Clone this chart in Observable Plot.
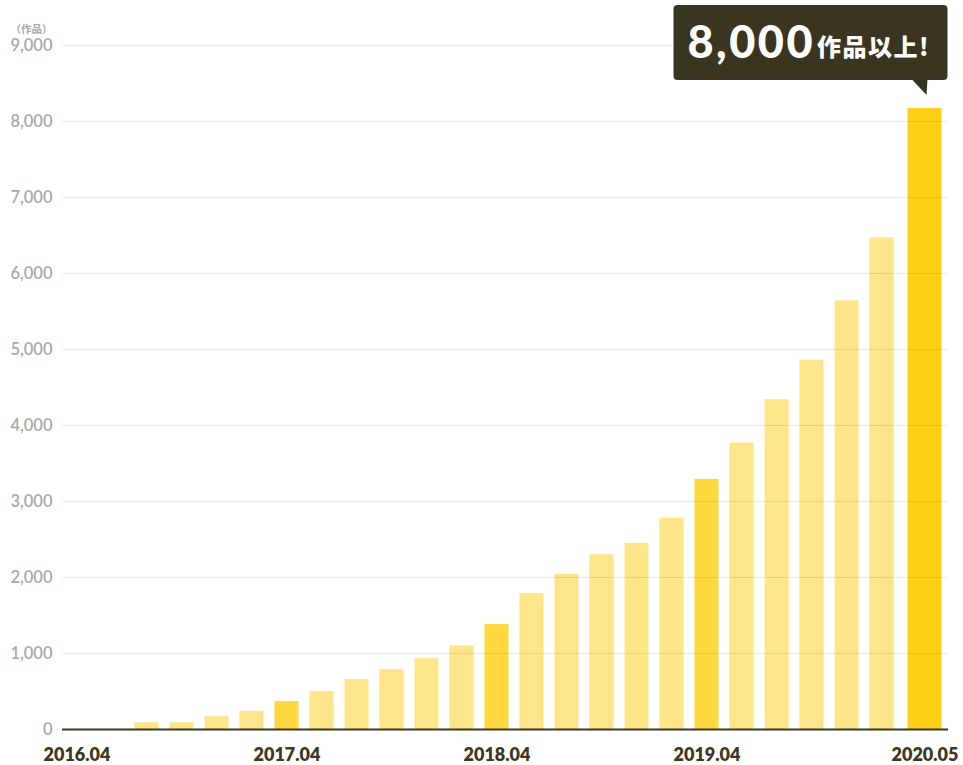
<!DOCTYPE html>
<html><head><meta charset="utf-8">
<script src="https://cdn.jsdelivr.net/npm/d3@7"></script>
<script src="https://cdn.jsdelivr.net/npm/@observablehq/plot@0.6"></script>
<style>
body{margin:0;background:#fff;}
</style></head><body><div id="chart"></div>
<script>
// ---- data ----
const months = ["2016.04","2016.06","2016.08","2016.10","2016.12",
  "2017.02","2017.04","2017.06","2017.08","2017.10","2017.12",
  "2018.02","2018.04","2018.06","2018.08","2018.10","2018.12",
  "2019.02","2019.04","2019.06","2019.08","2019.10","2019.12",
  "2020.02","2020.05"];
const works = [0,0,88,88,168,240,368,500,657,787,933,1100,1380,1790,2040,2300,2450,2780,3290,3770,4340,4860,5640,6470,8170];
const highlightMonths = ["2017.04","2018.04","2019.04"];
const latestMonth = "2020.05";
const xTickLabels = ["2016.04","2017.04","2018.04","2019.04"];
const yTicks = [0,1000,2000,3000,4000,5000,6000,7000,8000,9000];
const yUnit = "（作品）";
const calloutNumber = "8,000";
const calloutSuffix = "作品以上!";

const data = months.map((m, i) => ({month: m, works: works[i]}));
const normal = data.filter(d => d.month !== latestMonth && !highlightMonths.includes(d.month));
const highlighted = data.filter(d => highlightMonths.includes(d.month));
const latest = data.filter(d => d.month === latestMonth);

const font = "Lato, 'Noto Sans CJK JP', sans-serif";

const chart = Plot.plot({
  width: 963, height: 765,
  marginLeft: 62, marginRight: 15, marginTop: 45, marginBottom: 36,
  style: {fontFamily: font, background: "#fff", overflow: "visible"},
  x: {type: "band", domain: months, range: [58.5, 933.5], padding: 0},
  y: {domain: [0, 9000]},
  marks: [
    Plot.barY(normal, {x: "month", y: "works", fill: "#fee58a", insetLeft: 5.5, insetRight: 5.5}),
    Plot.barY(highlighted, {x: "month", y: "works", fill: "#fed83c", insetLeft: 5.5, insetRight: 5.5}),
    Plot.barY(latest, {x: "month", y: "works", fill: "#fecf14", dx: 8, insetLeft: 0.5, insetRight: 0.5}),
    Plot.gridY(yTicks, {stroke: "#000", strokeOpacity: 0.08, strokeWidth: 1}),
    Plot.ruleY([0], {stroke: "#3b3823", strokeWidth: 2}),
    Plot.axisY(yTicks, {tickSize: 0, tickPadding: 10, tickFormat: d3.format(","), fill: "#a9a9a9", fontSize: 16.5, fontWeight: 600, label: null}),
    Plot.axisX(xTickLabels, {tickSize: 0, tickPadding: 19, fontSize: 18, fontWeight: 800, fill: "#3b3823", label: null}),
    Plot.axisX([latestMonth], {tickSize: 0, tickPadding: 19, fontSize: 18, fontWeight: 800, fill: "#3b3823", label: null, dx: 8}),
    Plot.text([yUnit], {frameAnchor: "top-left", dx: -10, dy: -20, textAnchor: "end", fontSize: 10.5, fontWeight: 700, fill: "#a9a9a9"})
  ]
});
document.getElementById("chart").appendChild(chart);

// ---- callout above the latest bar, placed through Plot's scales ----
const xs = chart.scale("x"), ys = chart.scale("y");
const lastBar = latest[0];
const barCx = xs.apply(lastBar.month) + xs.bandwidth / 2 + 8;
const barTop = ys.apply(lastBar.works);
const tipX = barCx + 2, tipY = barTop - 13;
const boxRight = tipX + 21, boxBottom = barTop - 28, boxW = 274, boxH = 75;
const boxLeft = boxRight - boxW, boxTop = boxBottom - boxH;
const g = d3.select(chart).append("g").attr("text-anchor", "start");
g.append("rect").attr("x", boxLeft).attr("y", boxTop).attr("width", boxW).attr("height", boxH)
  .attr("rx", 4).attr("fill", "#3a3520");
g.append("path").attr("d", `M${tipX - 15},${boxBottom - 1}L${tipX + 1},${boxBottom - 1}L${tipX},${tipY}Z`).attr("fill", "#3a3520");
const t = g.append("text").attr("x", boxLeft + 14).attr("y", boxBottom - 22)
  .attr("text-anchor", "start")
  .attr("fill", "#fff").attr("font-family", font).attr("font-weight", 900);
t.append("tspan").attr("font-size", 45).attr("letter-spacing", 2.5).text(calloutNumber);
t.append("tspan").attr("font-size", 24).attr("letter-spacing", 1.5).attr("dx", 2).attr("dy", -2)
  .attr("font-family", "'Noto Sans CJK JP', sans-serif").attr("font-weight", 900).text(calloutSuffix);
</script>
</body></html>
